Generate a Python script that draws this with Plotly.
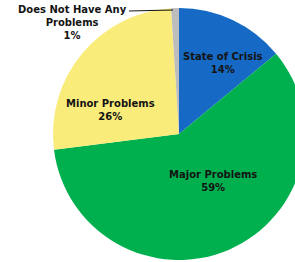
import plotly.graph_objects as go

labels = ["State of Crisis", "Major Problems", "Minor Problems", "Does Not Have Any<br>Problems"]
values = [14, 59, 26, 1]
colors = ["#1669C4", "#00B04F", "#FAEC7A", "#BDBDBD"]

W, H = 310, 262

# label anchor positions in pixels (layout only)
label_pos = [(223, 63), (213, 181), (110, 110), (72, 23)]

fig = go.Figure(go.Pie(
    labels=labels,
    values=values,
    textinfo="none",
    sort=False,
    direction="clockwise",
    rotation=0,
    marker=dict(colors=colors, line=dict(width=0)),
    domain=dict(x=[53 / W, 305 / W], y=[1 - 260 / H, 1 - 8 / H]),
    showlegend=False,
    hoverinfo="label+percent",
))

for lab, val, (px, py) in zip(labels, values, label_pos):
    fig.add_annotation(
        x=px / W, y=1 - py / H, xref="paper", yref="paper",
        xanchor="center", yanchor="middle",
        text=f"{lab}<br>{val}%",
        showarrow=False, align="center",
        font=dict(family="DejaVu Sans", size=10, color="#141414", weight="bold"),
    )

fig.add_shape(type="line", xref="paper", yref="paper",
              x0=129 / W, y0=1 - 11 / H, x1=173 / W, y1=1 - 10 / H,
              line=dict(color="#111111", width=1))

fig.update_layout(
    width=W, height=H,
    margin=dict(l=0, r=0, t=0, b=0),
    paper_bgcolor="white",
    plot_bgcolor="white",
)

fig.write_html(
    "out.html",
    config={"displayModeBar": False},
    post_script="document.documentElement.style.overflow='hidden';document.body.style.overflow='hidden';document.body.style.margin='0';",
)
